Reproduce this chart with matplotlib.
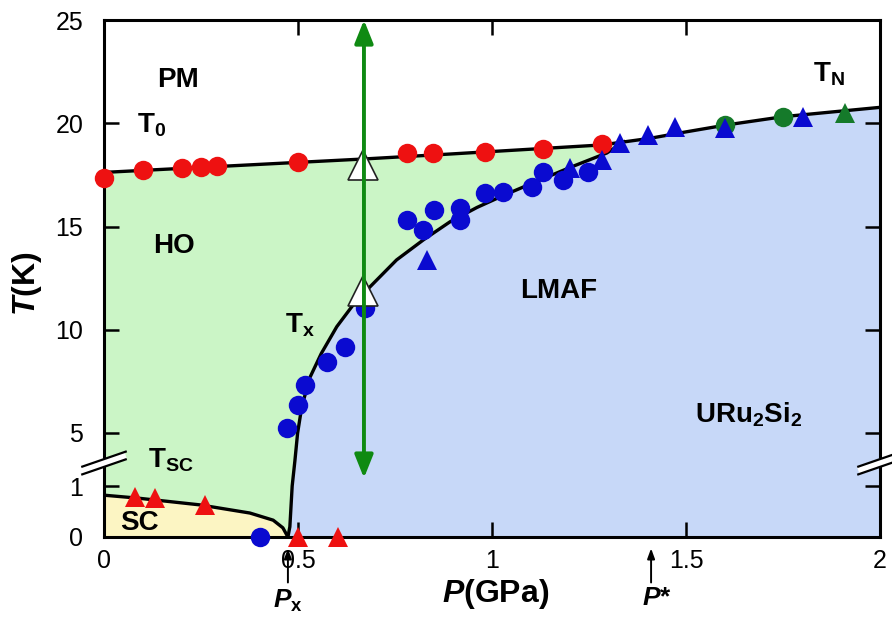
"""
URu2Si2 pressure-temperature phase diagram (broken T axis)
"""

import numpy as np
import matplotlib
matplotlib.use("Agg")
import matplotlib.pyplot as plt
from matplotlib.patches import FancyArrowPatch

plt.rcParams["font.family"] = ["Liberation Sans", "DejaVu Sans"]
plt.rcParams["mathtext.fontset"] = "custom"
plt.rcParams["mathtext.it"] = "Liberation Sans:bold:italic"
plt.rcParams["mathtext.rm"] = "Liberation Sans:bold"
plt.rcParams["mathtext.bf"] = "Liberation Sans:bold"
plt.rcParams["mathtext.default"] = "regular"

# ---- data (P in GPa, T in K) ----
# T0 / TN phase line
line_p = [0.0, 0.67, 0.892, 1.283, 1.407, 1.493, 1.605, 1.751, 2.0]
line_t = [17.62, 18.27, 18.51, 18.95, 19.27, 19.56, 19.92, 20.32, 20.77]

# Tx line (HO -> LMAF)
tx_p = [0.474, 0.479, 0.485, 0.492, 0.499, 0.51, 0.531, 0.56, 0.6, 0.65,
        0.703, 0.754, 0.823, 0.892, 0.961, 1.029, 1.098, 1.2, 1.296, 1.34]
tx_t = [0.0, 0.2, 1.0, 2.9, 5.0, 6.3, 7.7, 8.85, 10.15, 11.4,
        12.41, 13.38, 14.35, 15.23, 15.92, 16.5, 17.05, 17.85, 18.56, 19.1]

# Tsc line
sc_p = [0.0, 0.09, 0.247, 0.376, 0.436, 0.461, 0.474]
sc_t = [0.82, 0.76, 0.63, 0.47, 0.33, 0.18, 0.0]

red_circ_p = [0.0, 0.1, 0.201, 0.25, 0.291, 0.5, 0.781, 0.848, 0.982, 1.131, 1.284]
red_circ_t = [17.35, 17.74, 17.83, 17.88, 17.93, 18.12, 18.56, 18.56, 18.61, 18.75, 18.99]

red_tri_p = [0.08, 0.131, 0.26, 0.5, 0.603]
red_tri_t = [0.78, 0.76, 0.63, 0.0, 0.0]

blue_circ_p = [0.402, 0.472, 0.5, 0.518, 0.575, 0.621, 0.673, 0.781, 0.822, 0.85,
               0.918, 0.918, 0.982, 1.028, 1.103, 1.131, 1.183, 1.247]
blue_circ_t = [0.0, 5.24, 6.36, 7.32, 8.44, 9.16, 11.05, 15.31, 14.83, 15.8,
               15.9, 15.31, 16.62, 16.67, 16.91, 17.64, 17.25, 17.64]

blue_tri_p = [0.832, 1.201, 1.284, 1.33, 1.402, 1.472, 1.6, 1.802]
blue_tri_t = [13.38, 17.83, 18.22, 19.04, 19.43, 19.82, 19.77, 20.3]

green_circ_p = [1.6, 1.75]
green_circ_t = [19.92, 20.3]
green_tri_p = [1.91]
green_tri_t = [20.5]

open_tri_p = [0.668, 0.668]
open_tri_t = [17.98, 11.9]

arrow_p = 0.67
arrow_t = (1.6, 25.0)
px_p = 0.474
pstar_p = 1.41

xticks = [0, 0.5, 1, 1.5, 2]
xticklabels = ["0", "0.5", "1", "1.5", "2"]
yticks = [0, 1, 5, 10, 15, 20, 25]
yticklabels = ["0", "1", "5", "10", "15", "20", "25"]


# broken T axis: 0-1 stretched, 1-5 squeezed, 5-25 linear
def fwd(t):
    t = np.asarray(t, dtype=float)
    return np.where(t < 1, t * 51.0,
                    np.where(t < 5, 51.0 + (t - 1) * 53.0 / 4, 104.0 + (t - 5) * 20.65))


def inv(u):
    u = np.asarray(u, dtype=float)
    return np.where(u < 51, u / 51.0,
                    np.where(u < 104, 1 + (u - 51) * 4 / 53.0, 5 + (u - 104) / 20.65))


fig = plt.figure(figsize=(8.92, 6.19), dpi=100)
ax = fig.add_axes([104 / 892, 1 - 537 / 619, 776 / 892, 517 / 619])
ax.set_yscale("function", functions=(fwd, inv))
ax.set_xlim(0, 2)
ax.set_ylim(0, 25)

# phase regions
sc_poly_p = [0.0] + sc_p + [0.0]
sc_poly_t = [0.0] + sc_t + [0.0]
ax.fill(sc_poly_p, sc_poly_t, color="#fcf5c3", lw=0, zorder=1)

tx_end = tx_p[-1]
top_p = [p for p in line_p if p < tx_end]
top_t = [t for p, t in zip(line_p, line_t) if p < tx_end]
ho_p = sc_p + tx_p[1:] + top_p[::-1]
ho_t = sc_t + tx_t[1:] + top_t[::-1]
ax.fill(ho_p, ho_t, color="#cbf5c6", lw=0, zorder=1)

rest_p = [p for p in line_p if p > tx_end]
rest_t = [t for p, t in zip(line_p, line_t) if p > tx_end]
af_p = tx_p + rest_p + [2.0]
af_t = tx_t + rest_t + [0.0]
ax.fill(af_p, af_t, color="#c7d8f8", lw=0, zorder=1)

# phase lines
ax.plot(line_p, line_t, color="black", lw=2.4, zorder=3)
ax.plot(tx_p, tx_t, color="black", lw=2.4, zorder=3)
ax.plot(sc_p, sc_t, color="black", lw=2.4, zorder=3)

# data points
ms = 14
ax.plot(red_circ_p, red_circ_t, "o", color="#ee1111", ms=ms, mew=0, clip_on=False, zorder=5)
ax.plot(red_tri_p, red_tri_t, "^", color="#ee1111", ms=ms, mew=0, clip_on=False, zorder=5)
ax.plot(blue_circ_p, blue_circ_t, "o", color="#0a0ad0", ms=ms, mew=0, clip_on=False, zorder=5)
ax.plot(blue_tri_p, blue_tri_t, "^", color="#0a0ad0", ms=ms, mew=0, clip_on=False, zorder=5)
ax.plot(green_circ_p, green_circ_t, "o", color="#157a2a", ms=ms, mew=0, clip_on=False, zorder=4)
ax.plot(green_tri_p, green_tri_t, "^", color="#157a2a", ms=ms, mew=0, clip_on=False, zorder=5)
ax.plot(open_tri_p, open_tri_t, "^", mfc="white", mec="#222222", mew=1.2, ms=21, zorder=6)

# green pressure sweep arrow
arr = FancyArrowPatch((arrow_p, arrow_t[0]), (arrow_p, arrow_t[1]),
                      arrowstyle="<|-|>,head_length=0.7,head_width=0.28",
                      mutation_scale=20, color="#0f8a12", lw=2.8,
                      clip_on=False, zorder=7, shrinkA=0, shrinkB=0)
ax.add_patch(arr)

# Px and P* markers below the axis
for p in (px_p, pstar_p):
    ax.annotate("", xy=(p, -0.022), xytext=(p, -0.088),
                xycoords=("data", "axes fraction"),
                textcoords=("data", "axes fraction"),
                arrowprops=dict(arrowstyle="-|>,head_length=0.6,head_width=0.22",
                                color="black", lw=1.4, shrinkA=0, shrinkB=0),
                annotation_clip=False)
ax.text(px_p, -0.123, r"$\mathit{P}_x$", transform=ax.get_xaxis_transform(),
        ha="center", va="center", fontsize=19, fontweight="bold")
ax.text(pstar_p + 0.015, -0.118, r"$\mathit{P}$*", transform=ax.get_xaxis_transform(),
        ha="center", va="center", fontsize=19, fontweight="bold")

# region / line labels
lab = dict(fontsize=20, fontweight="bold", ha="left", va="baseline", zorder=8)
ax.text(0.137, 21.76, "PM", **lab)
ax.text(0.085, 19.53, r"T$_0$", **lab)
ax.text(0.126, 13.72, "HO", **lab)
ax.text(0.466, 9.89, r"T$_x$", **lab)
ax.text(1.072, 11.54, "LMAF", **lab)
ax.text(1.827, 22.0, r"T$_N$", **lab)
ax.text(1.523, 5.53, r"URu$_2$Si$_2$", **lab)
ax.text(0.113, 2.36, r"T$_{SC}$", **lab)
ax.text(0.041, 0.137, "SC", **lab)

# axes styling
ax.set_xticks(xticks)
ax.set_xticklabels(xticklabels)
ax.set_yticks(yticks)
ax.set_yticklabels(yticklabels)
ax.minorticks_off()
ax.tick_params(axis="both", which="major", direction="in", length=11, width=1.8,
               top=True, right=True, labelsize=18)
ax.tick_params(axis="x", pad=9)
ax.tick_params(axis="y", pad=15)
for s in ax.spines.values():
    s.set_linewidth(2.2)
    s.set_zorder(4)

ax.set_xlabel(r"$\mathit{P}$(GPa)", fontsize=23, fontweight="bold")
ax.set_ylabel(r"$\mathit{T}$(K)", fontsize=23, fontweight="bold")
ax.xaxis.set_label_coords(0.505, -0.078)
ax.yaxis.set_label_coords(-0.077, 0.49)

# axis break marks
yb = (537 - 463) / 517
for xb in (0.0, 1.0):
    dx, dy = 0.028, 0.0145
    ax.plot([xb - dx, xb + dx], [yb - dy, yb + dy], transform=ax.transAxes,
            color="white", lw=6, clip_on=False, zorder=9, solid_capstyle="butt")
    for off in (-0.0075, 0.0075):
        ax.plot([xb - dx, xb + dx], [yb - dy + off, yb + dy + off], transform=ax.transAxes,
                color="black", lw=1.6, clip_on=False, zorder=10)

fig.savefig("out.png", dpi=100)
